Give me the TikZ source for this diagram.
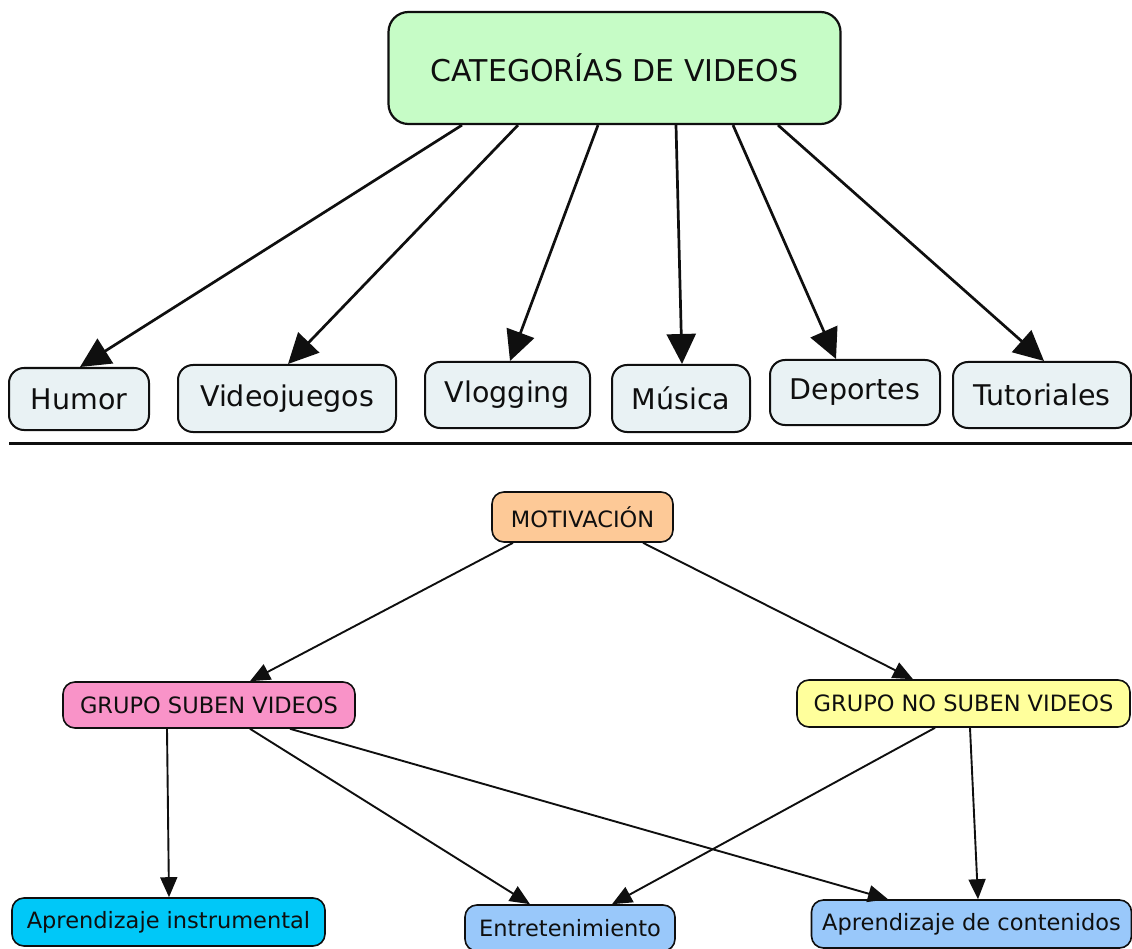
\documentclass[tikz,border=0pt]{standalone}
\usepackage{fontspec}
\setmainfont{DejaVu Sans}
\usetikzlibrary{arrows.meta}

\definecolor{catgreen}{HTML}{C6FCC6}
\definecolor{itemgray}{HTML}{E9F2F4}
\definecolor{motorange}{HTML}{FDC997}
\definecolor{pinkbox}{HTML}{F993C8}
\definecolor{yellowbox}{HTML}{FFFF9C}
\definecolor{cyanbox}{HTML}{00C8F8}
\definecolor{bluebox}{HTML}{99C8FA}
\definecolor{ink}{HTML}{0F0F0F}

\begin{document}
\begin{tikzpicture}[x=1pt,y=-1pt,
  titlebox/.style={draw=ink, line width=2.2pt, rounded corners=20pt, fill=catgreen,
    inner sep=0pt, font=\fontsize{30}{36}\selectfont, text=ink},
  catbox/.style={draw=ink, line width=2pt, rounded corners=15pt, fill=itemgray,
    inner sep=0pt, font=\fontsize{28.5}{34}\selectfont, text=ink},
  lowbox/.style={draw=ink, line width=1.6pt, rounded corners=12pt,
    inner sep=0pt, font=\fontsize{22.5}{27}\selectfont, text=ink},
  bigarrow/.style={draw=ink, line width=2.7pt, -{Triangle[length=30pt,width=29pt]}},
  smallarrow/.style={draw=ink, line width=1.9pt, -{Triangle[length=20pt,width=17pt]}}
]
\useasboundingbox (0,0) rectangle (1132,949);

% upper map: video categories
\node[titlebox, minimum width=452pt, minimum height=112pt] (cat) at (614.5,68) {CATEGORÍAS DE VIDEOS};

\node[catbox, minimum width=140pt, minimum height=62pt] (humor)  at (79,399)    {Humor};
\node[catbox, minimum width=218pt, minimum height=67pt] (games)  at (287,398.5) {Videojuegos};
\node[catbox, minimum width=165pt, minimum height=66pt] (vlog)   at (507.5,395) {Vlogging};
\node[catbox, minimum width=138pt, minimum height=67pt] (music)  at (681,398.5) {Música};
\node[catbox, minimum width=170pt, minimum height=65pt] (sports) at (855,392.5) {Deportes};
\node[catbox, minimum width=178pt, minimum height=66pt] (tut)    at (1042,395)  {Tutoriales};

\draw[bigarrow] ([xshift=-152.5pt]cat.south) -- ([xshift=1pt]humor.north);
\draw[bigarrow] ([xshift=-96.5pt]cat.south)  -- ([xshift=1pt]games.north);
\draw[bigarrow] ([xshift=-16.5pt]cat.south)  -- ([xshift=2.5pt]vlog.north);
\draw[bigarrow] ([xshift=61.5pt]cat.south)   -- ([xshift=1pt]music.north);
\draw[bigarrow] ([xshift=118.5pt]cat.south)  -- ([xshift=-19pt]sports.north);
\draw[bigarrow] ([xshift=163.5pt]cat.south)  -- ([xshift=2pt]tut.north);

% separator rule
\coordinate (ruleL) at (9,443.5);
\coordinate (ruleR) at (1132,443.5);
\draw[ink, line width=3.5pt] (ruleL) -- (ruleR);

% lower map: motivation
\node[lowbox, fill=motorange, minimum width=181pt, minimum height=50pt] (mot)    at (582.5,517)  {MOTIVACIÓN};
\node[lowbox, fill=pinkbox,   minimum width=292pt, minimum height=46pt] (sube)   at (209,705)    {GRUPO SUBEN VIDEOS};
\node[lowbox, fill=yellowbox, minimum width=333pt, minimum height=47pt] (nosube) at (963.5,703.5) {GRUPO NO SUBEN VIDEOS};
\node[lowbox, fill=cyanbox,   minimum width=313pt, minimum height=48pt] (instr)  at (168.5,922)  {Aprendizaje instrumental};
\node[lowbox, fill=bluebox,   minimum width=210pt, minimum height=46pt] (entre)  at (570,928)    {Entretenimiento};
\node[lowbox, fill=bluebox,   minimum width=320pt, minimum height=48pt] (cont)   at (971.5,924)  {Aprendizaje de contenidos};

\draw[smallarrow] ([xshift=-69.5pt]mot.south)  -- ([xshift=41pt]sube.north);
\draw[smallarrow] ([xshift=60.5pt]mot.south)   -- ([xshift=-50.5pt]nosube.north);
\draw[smallarrow] ([xshift=-42pt]sube.south)   -- ([xshift=0.5pt]instr.north);
\draw[smallarrow] ([xshift=41pt]sube.south)    -- ([xshift=-40pt]entre.north);
\draw[smallarrow] ([xshift=81pt]sube.south)    -- ([xshift=-83.5pt]cont.north);
\draw[smallarrow] ([xshift=-28.5pt]nosube.south) -- ([xshift=42pt]entre.north);
\draw[smallarrow] ([xshift=6.5pt]nosube.south) -- ([xshift=6.5pt]cont.north);
\end{tikzpicture}
\end{document}
